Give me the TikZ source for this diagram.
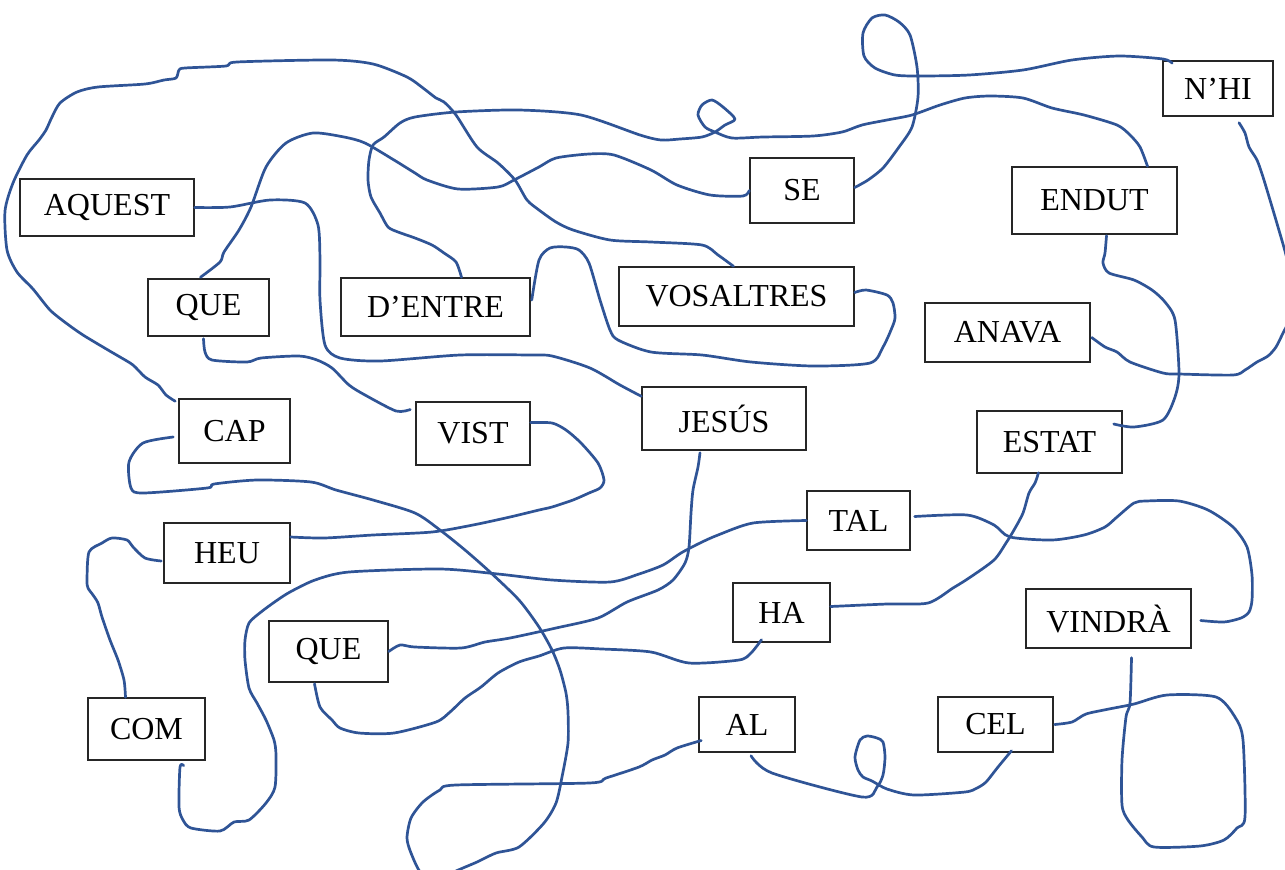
\documentclass[tikz,border=0pt]{standalone}
\usepackage{fontspec}
\setmainfont{Liberation Serif}
\usetikzlibrary{calc}
\definecolor{ink}{RGB}{47,84,150}
\newcommand{\wbox}[6]{\node[wb, minimum width={(#4-#2)*0.5pt}, minimum height={(#5-#3)*0.5pt}] (#1) at ({(#2+#4)/2},{(#3+#5)/2}) {#6};}
\begin{document}
\begin{tikzpicture}[x=0.5pt,y=-0.5pt,
  wb/.style={draw=black!85, line width=0.75pt, inner sep=0pt, font=\fontsize{16}{19}\selectfont},
  wire/.style={draw=ink, line width=1.35pt, line cap=round, line join=round}]
\useasboundingbox (0,0) rectangle (1285,869);
\clip (0,0) rectangle (1285,869);
% word boxes
\wbox{aquest}{20}{179}{194}{236}{AQUEST}
\wbox{queA}{148}{279}{269}{336}{QUE}
\wbox{dentre}{341}{278}{530}{336}{D’ENTRE}
\wbox{vosaltres}{619}{267}{854}{326}{VOSALTRES}
\wbox{se}{750}{158}{854}{223}{SE}
\wbox{endut}{1012}{167}{1177}{234}{ENDUT}
\wbox{nhi}{1163}{61}{1273}{116}{N’HI}
\wbox{anava}{925}{303}{1090}{362}{ANAVA}
\wbox{cap}{179}{399}{290}{463}{CAP}
\wbox{vist}{416}{402}{530}{465}{VIST}
\wbox{jesus}{642}{387}{806}{450}{JESÚS}
\wbox{estat}{977}{411}{1122}{473}{ESTAT}
\wbox{tal}{807}{491}{910}{550}{TAL}
\wbox{heu}{164}{523}{290}{583}{HEU}
\wbox{ha}{733}{583}{830}{642}{HA}
\wbox{vindra}{1026}{589}{1191}{648}{VINDRÀ}
\wbox{queB}{269}{621}{388}{682}{QUE}
\wbox{com}{88}{698}{205}{760}{COM}
\wbox{al}{699}{697}{795}{752}{AL}
\wbox{cel}{938}{697}{1053}{752}{CEL}
% connectors
\draw[wire] plot[smooth,tension=0.45] coordinates {(aquest.east) (230,207) (270,200) (305,203) (318,225) (320,260) (320,300) (325,345) (340,358) (380,361) (460,355) (530,355) (552,356) (590,368) (620,385) ($(jesus.north west)+(0,10)$)};
\draw[wire] plot[smooth,tension=0.45] coordinates {($(queA.north)+(-8,-1)$) (220,262) (224,252) (239,230) (251,207) (266,167) (286,143) (313,133) (344,137) (365,143) (394,160) (415,173) (427,180) (458,189) (498,187) (514,180) (539,167) (556,158) (589,154) (614,155) (651,170) (677,185) (710,195) (743,196) (se.west)};
\draw[wire] plot[smooth,tension=0.45] coordinates {($(se.east)+(0,-3)$) (868,180) (883,168) (899,147) (912,127) (918,97) (917,67) (910,35) (899,22) (885,15) (872,18) (863,33) (864,56) (875,68) (895,75) (920,76) (969,75) (1023,70) (1072,60) (1119,56) (1163,59) ($(nhi.north west)+(10,3)$)};
\draw[wire] plot[smooth,tension=0.45] coordinates {($(endut.north)+(53,0)$) (1140,147) (1130,135) (1117,125) (1084,115) (1052,108) (1023,98) (990,96) (965,98) (940,105) (912,115) (887,120) (862,125) (842,132) (813,136) (763,137) (732,138) (715,132) (705,127) (698,115) (702,105) (712,100) (723,107) (735,119) (725,125) (715,132) (702,137) (680,139) (661,140) (640,135) (581,115) (519,110) (456,112) (415,117) (400,123) (384,137) (373,145) (369,160) (368,180) (371,197) (380,213) (388,227) (398,232) (415,238) (432,245) (444,253) (456,262) ($(dentre.north)+(26,0)$)};
\draw[wire] plot[smooth,tension=0.45] coordinates {($(cap.north west)+(-3,3)$) (166,395) (158,385) (145,377) (133,365) (120,357) (108,350) (83,335) (66,323) (50,310) (33,289) (17,272) (7,250) (5,211) (13,183) (27,155) (39,140) (46,130) (52,117) (60,103) (77,92) (98,87) (145,84) (164,80) (176,78) (179,70) (185,68) (226,66) (237,62) (332,60) (373,64) (407,77) (423,88) (436,98) (444,102) (456,115) (477,147) (498,163) (515,180) (527,200) (539,210) (556,222) (573,230) (610,240) (651,242) (702,245) (718,255) ($(vosaltres.north)+(-3,0)$)};
\draw[wire] plot[smooth,tension=0.45] coordinates {($(cap.west)+(-5,6)$) (143,443) (129,462) (131,488) (143,493) (207,488) (214,484) (257,480) (311,482) (336,490) (373,500) (415,513) (440,530) (465,550) (490,572) (519,600) (539,627) (552,650) (560,670) (566,693) (568,712) (568,743) (562,777) (556,803) (544,823) (519,847) (496,853) (477,862) (456,871) (438,880) (421,873) (411,853) (407,838) (411,818) (423,802) (440,790) (456,785) (589,783) (606,778) (639,767) (652,760) (665,755) (677,748) ($(al.west)+(3,16)$)};
\draw[wire] plot[smooth,tension=0.45] coordinates {($(vist.east)+(0,-11)$) (552,423) (566,430) (581,443) (598,463) (604,480) (600,488) (589,493) (573,500) (552,507) (539,510) (510,517) (473,525) (432,532) (373,535) (324,538) ($(heu.east)+(0,-16)$)};
\draw[wire] plot[smooth,tension=0.45] coordinates {($(queA.south)+(-5,2)$) (205,352) (212,360) (247,362) (261,358) (299,356) (317,360) (332,368) (349,385) (365,395) (396,411) ($(vist.west)+(-5,-24)$)};
\draw[wire] plot[smooth,tension=0.45] coordinates {($(dentre.east)+(1,-7)$) (539,260) (550,248) (566,247) (579,250) (589,263) (600,300) (610,330) (618,340) (651,352) (702,355) (751,362) (813,366) (870,363) (883,347) (891,330) (895,318) (893,303) (887,295) (866,290) ($(vosaltres.east)+(0,-4)$)};
\draw[wire] plot[smooth,tension=0.45] coordinates {($(jesus.south)+(-24,2)$) (698,467) (693,490) (691,513) (689,547) (685,563) (673,580) (658,590) (627,602) (598,618) (556,628) (510,638) (485,642) (461,648) (415,647) (400,645) (queB.east)};
\draw[wire] plot[smooth,tension=0.45] coordinates {(tal.west) (753,523) (718,535) (700,543) (681,553) (663,565) (639,574) (610,582) (552,580) (498,574) (440,569) (349,572) (315,580) (290,592) (276,601) (261,612) (249,623) (245,640) (245,660) (249,688) (257,703) (266,720) (274,740) (276,755) (275,787) (266,803) (249,820) (234,822) (220,831) (191,828) (183,820) (179,807) (180,767) ($(com.south east)+(-22,5)$)};
\draw[wire] plot[smooth,tension=0.45] coordinates {($(queB.south)+(-14,1)$) (320,707) (332,720) (340,728) (359,733) (394,733) (436,722) (450,712) (465,698) (481,687) (498,673) (519,662) (539,656) (564,648) (602,649) (651,652) (689,663) (739,660) (751,653) ($(ha.south)+(-20,-3)$)};
\draw[wire] plot[smooth,tension=0.45] coordinates {($(estat.south)+(-11,-1)$) (1035,483) (1029,493) (1023,513) (1014,530) (1006,543) (994,560) (969,578) (953,588) (928,603) (887,604) ($(ha.east)+(0,-6)$)};
\draw[wire] plot[smooth,tension=0.45] coordinates {($(tal.east)+(4,-4)$) (967,515) (994,525) (1010,537) (1052,540) (1084,535) (1105,527) (1117,517) (1134,503) (1146,501) (1179,501) (1208,510) (1233,527) (1247,547) (1252,575) (1252,600) (1249,612) (1241,618) (1224,622) ($(vindra.east)+(9,2)$)};
\draw[wire] plot[smooth,tension=0.45] coordinates {($(endut.south)+(12,1)$) (1105,253) (1103,263) (1109,273) (1134,280) (1152,290) (1165,302) (1175,320) (1179,373) (1175,397) (1163,420) (1134,427) ($(estat.east)+(-9,-18)$)};
\draw[wire] plot[smooth,tension=0.45] coordinates {($(nhi.south)+(21,6)$) (1245,133) (1249,147) (1257,160) (1263,177) (1270,200) (1278,227) (1286,255) (1294,290) (1290,318) (1283,333) (1276,347) (1268,356) (1257,362) (1245,370) (1233,375) (1179,374) (1163,373) (1130,362) (1117,352) (1105,347) ($(anava.east)+(1,5)$)};
\draw[wire] plot[smooth,tension=0.45] coordinates {($(heu.west)+(-2,8)$) (145,558) (133,547) (127,540) (112,538) (102,543) (89,552) (87,580) (88,588) (93,595) (98,603) (102,617) (110,640) (118,660) (124,680) ($(com.north)+(-21,0)$)};
\draw[wire] plot[smooth,tension=0.45] coordinates {($(al.south)+(4,3)$) (772,773) (862,797) (877,787) (883,775) (885,757) (883,742) (877,738) (867,736) (860,740) (855,757) (858,770) (863,777) (872,781) (887,789) (914,795) (965,792) (977,788) (986,782) (998,767) ($(cel.south)+(16,-2)$)};
\draw[wire] plot[smooth,tension=0.45] coordinates {($(cel.east)+(1,0)$) (1072,722) (1086,714) (1109,709) (1134,704) (1167,695) (1216,697) (1235,717) (1243,740) (1245,817) (1237,828) (1224,840) (1200,846) (1154,847) (1142,837) (1128,820) (1122,805) (1122,760) (1126,717) (1130,703) ($(vindra.south)+(23,9)$)};
\end{tikzpicture}
\end{document}
